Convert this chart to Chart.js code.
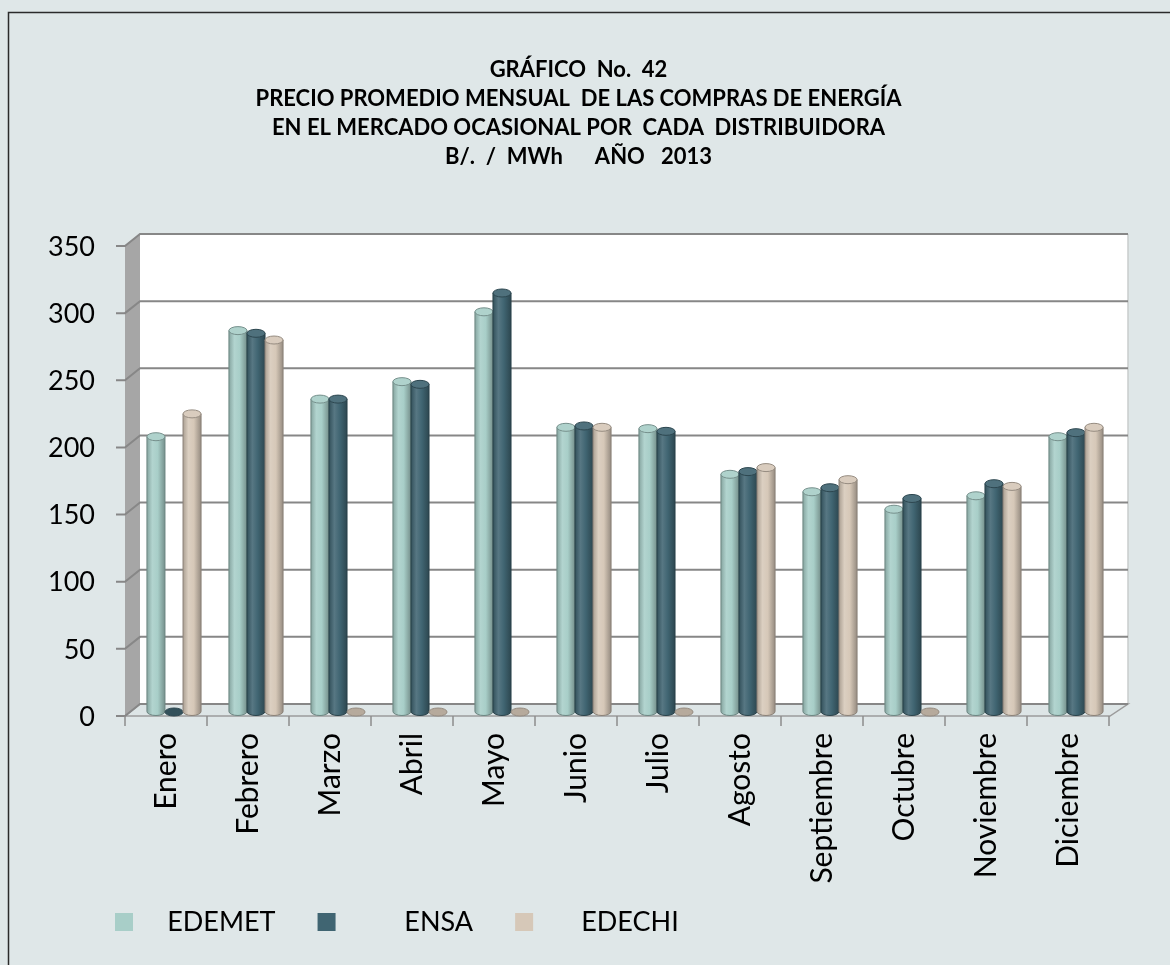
<!DOCTYPE html>
<html>
<head>
<meta charset="utf-8">
<script src="https://cdn.jsdelivr.net/npm/chart.js@4.4.1/dist/chart.umd.min.js"></script>
<style>
  body { margin: 0; background: #dfe7e8; }
  canvas { display: block; }
</style>
</head>
<body>
<canvas id="myChart" width="1170" height="965"></canvas>
<script>
// data (B/. per MWh, 2013)
const months = ['Enero', 'Febrero', 'Marzo', 'Abril', 'Mayo', 'Junio', 'Julio', 'Agosto', 'Septiembre', 'Octubre', 'Noviembre', 'Diciembre']
const edemet = [205, 284, 233, 246, 298, 212, 211, 177, 164, 151, 161, 205]
const ensa   = [0, 282, 233, 244, 312, 213, 209, 179, 167, 159, 170, 208]
const edechi = [222, 277, 0, 0, 0, 212, 0, 182, 173, 0, 168, 212]
const titleLines = [
  'GRÁFICO  No.  42',
  'PRECIO PROMEDIO MENSUAL  DE LAS COMPRAS DE ENERGÍA',
  'EN EL MERCADO OCASIONAL POR  CADA  DISTRIBUIDORA',
  'B/.  /  MWh      AÑO   2013'
]

const colors = { EDEMET: '#a8cec8', ENSA: '#406572', EDECHI: '#d6c8b8' }
const legendGap = { EDEMET: 3, ENSA: 8, EDECHI: 5 }   // spaces between box and text

// front / back planes of the 3D box, relative to the chart area (bars sit in between)
const FRONT = { dx: -8, dy: 4 }
const BACK = { dx: 7, dy: -8 }

function shade(hex, amt) {
  const n = parseInt(hex.slice(1), 16)
  let r = n >> 16, g = (n >> 8) & 255, b = n & 255
  const f = c => Math.round(amt < 0 ? c * (1 + amt) : c + (255 - c) * amt)
  return `rgb(${f(r)},${f(g)},${f(b)})`
}

Chart.defaults.font.family = 'Lato'
Chart.defaults.color = '#000'

const background = {
  id: 'background',
  beforeDraw(chart) {
    const ctx = chart.ctx
    ctx.save()
    ctx.fillStyle = '#dfe7e8'
    ctx.fillRect(0, 0, chart.width, chart.height)
    ctx.strokeStyle = '#2b2b2b'
    ctx.lineWidth = 1.5
    ctx.beginPath()
    ctx.moveTo(8.5, chart.height)
    ctx.lineTo(8.5, 12.5)
    ctx.lineTo(chart.width, 12.5)
    ctx.stroke()
    ctx.restore()
  }
}

// legend row starts further right than the y labels and sits a bit higher
const legendShift = {
  id: 'legendShift',
  afterLayout(chart) {
    chart.legend.left += 33
    chart.legend.top -= 19.5
  }
}

const walls = {
  id: 'walls',
  beforeDatasetsDraw(chart) {
    const ctx = chart.ctx
    const { left, right, top, bottom } = chart.chartArea
    const ys = chart.scales.y, xs = chart.scales.x
    const backR = right + BACK.dx + 4
    ctx.save()
    // back wall
    ctx.fillStyle = '#ffffff'
    ctx.fillRect(left + BACK.dx, top + BACK.dy, backR - left - BACK.dx, bottom - top)
    ctx.strokeStyle = '#c9cccc'
    ctx.lineWidth = 1.5
    ctx.beginPath()
    ctx.moveTo(backR, top + BACK.dy)
    ctx.lineTo(backR, bottom + BACK.dy)
    ctx.stroke()
    // side wall
    ctx.fillStyle = '#a6a6a6'
    ctx.beginPath()
    ctx.moveTo(left + FRONT.dx, top + FRONT.dy)
    ctx.lineTo(left + BACK.dx, top + BACK.dy)
    ctx.lineTo(left + BACK.dx, bottom + BACK.dy)
    ctx.lineTo(left + FRONT.dx, bottom + FRONT.dy)
    ctx.closePath()
    ctx.fill()
    // floor
    ctx.fillStyle = '#dde5e6'
    ctx.beginPath()
    ctx.moveTo(left + FRONT.dx, bottom + FRONT.dy)
    ctx.lineTo(left + BACK.dx, bottom + BACK.dy)
    ctx.lineTo(backR, bottom + BACK.dy)
    ctx.lineTo(right + FRONT.dx + 1, bottom + FRONT.dy)
    ctx.closePath()
    ctx.fill()
    ctx.strokeStyle = '#9c9c9c'
    ctx.lineWidth = 1.5
    ctx.stroke()
    // grid lines
    ctx.strokeStyle = '#878787'
    ctx.lineWidth = 2
    ys.ticks.forEach(t => {
      const yp = ys.getPixelForValue(t.value)
      ctx.beginPath()
      ctx.moveTo(left + FRONT.dx - 9, yp + FRONT.dy)
      ctx.lineTo(left + FRONT.dx, yp + FRONT.dy)
      ctx.lineTo(left + BACK.dx, yp + BACK.dy)
      ctx.lineTo(backR, yp + BACK.dy)
      ctx.stroke()
    })
    // category tick marks on the front edge
    ctx.strokeStyle = '#8c8c8c'
    ctx.lineWidth = 1.5
    const step = xs.width / months.length
    for (let i = 0; i <= months.length; i++) {
      const bx = (i < months.length ? xs.getPixelForValue(i) - step / 2 : xs.getPixelForValue(i - 1) + step / 2) + FRONT.dx
      ctx.beginPath()
      ctx.moveTo(bx, bottom + FRONT.dy)
      ctx.lineTo(bx, bottom + FRONT.dy + 10)
      ctx.stroke()
    }
    ctx.restore()
  }
}

// paint each bar as a cylinder on top of the library's rectangle
const cylinders = {
  id: 'cylinders',
  afterDatasetsDraw(chart) {
    const ctx = chart.ctx
    chart.data.datasets.forEach((ds, i) => {
      const meta = chart.getDatasetMeta(i)
      const c = colors[ds.label]
      meta.data.forEach(bar => {
        const { x, y, base, width } = bar.getProps(['x', 'y', 'base', 'width'], true)
        const w = width / 2, ry = 4
        const l = x - w, r = x + w
        ctx.save()
        if (base - y > 0.5) {
          const g = ctx.createLinearGradient(l, 0, r, 0)
          g.addColorStop(0, shade(c, -0.2))
          g.addColorStop(0.3, shade(c, 0.12))
          g.addColorStop(0.6, c)
          g.addColorStop(1, shade(c, -0.3))
          ctx.fillStyle = g
          ctx.beginPath()
          ctx.moveTo(l, y)
          ctx.lineTo(l, base)
          ctx.ellipse(x, base, w, ry, 0, Math.PI, 0, true)
          ctx.lineTo(r, y)
          ctx.closePath()
          ctx.fill()
          ctx.strokeStyle = shade(c, -0.35)
          ctx.lineWidth = 1
          ctx.stroke()
          ctx.fillStyle = shade(c, 0.08)
        } else {
          ctx.fillStyle = ds.label === 'ENSA' ? shade(c, -0.2) : shade(c, -0.15)
        }
        ctx.beginPath()
        ctx.ellipse(x, y, w, ry, 0, 0, Math.PI * 2)
        ctx.fill()
        ctx.strokeStyle = shade(c, -0.3)
        ctx.lineWidth = 1
        ctx.stroke()
        ctx.restore()
      })
    })
  }
}

new Chart('myChart', {
  type: 'bar',
  data: {
    labels: months,
    datasets: [
      { label: 'EDEMET', data: edemet, backgroundColor: colors.EDEMET },
      { label: 'ENSA', data: ensa, backgroundColor: colors.ENSA },
      { label: 'EDECHI', data: edechi, backgroundColor: colors.EDECHI }
    ]
  },
  options: {
    responsive: false,
    animation: false,
    categoryPercentage: 0.66,
    barPercentage: 1,
    layout: { padding: { left: 40, right: 53, top: 0, bottom: 0 } },
    scales: {
      x: {
        grid: { drawOnChartArea: false, drawTicks: false },
        border: { display: false },
        ticks: { font: { size: 30 }, minRotation: 90, maxRotation: 90, autoSkip: false, padding: 21, labelOffset: -8 },
        afterFit: s => { s.height = 174 }
      },
      y: {
        min: 0,
        max: 350,
        grid: { drawOnChartArea: false, drawTicks: false },
        border: { display: false },
        ticks: { stepSize: 50, font: { size: 27 }, padding: 38, labelOffset: 5 },
        afterFit: s => { s.width = 93 }
      }
    },
    plugins: {
      title: {
        display: true,
        text: titleLines,
        font: { size: 22, weight: 'bold', lineHeight: 1.318 },
        padding: { top: 55.5, bottom: 70.5 }
      },
      legend: {
        position: 'bottom',
        align: 'start',
        labels: {
          font: { size: 27 },
          boxWidth: 18,
          boxHeight: 18,
          padding: 42,
          generateLabels: chart => Chart.defaults.plugins.legend.labels.generateLabels(chart).map(item => {
            item.text = ' '.repeat(legendGap[item.text]) + item.text
            item.lineWidth = 0
            return item
          })
        }
      },
      tooltip: { enabled: false }
    }
  },
  plugins: [background, legendShift, walls, cylinders]
})
</script>
</body>
</html>
